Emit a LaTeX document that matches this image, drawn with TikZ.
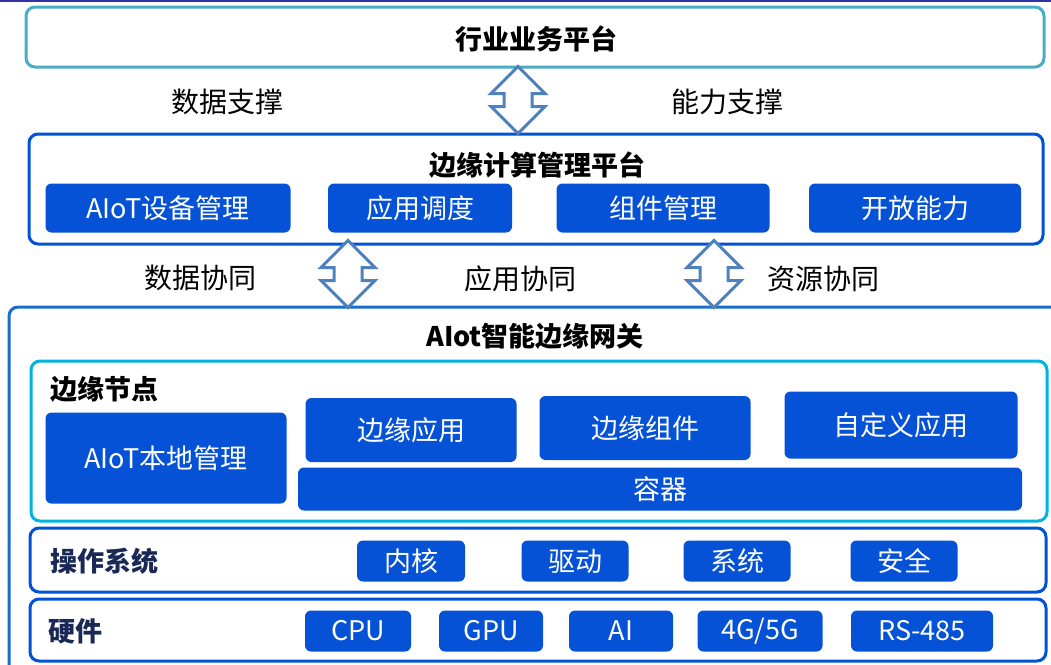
\documentclass[tikz,border=0pt]{standalone}
\usepackage{fontspec}
\setmainfont{Noto Sans CJK SC}
\usetikzlibrary{shapes.arrows,positioning}

\definecolor{btnblue}{RGB}{5,82,214}
\definecolor{ecmblue}{RGB}{0,82,214}
\definecolor{gwblue}{RGB}{25,110,200}
\definecolor{bizteal}{RGB}{75,172,198}
\definecolor{nodecyan}{RGB}{0,180,222}
\definecolor{arrowblue}{RGB}{79,129,189}
\definecolor{navy}{RGB}{25,40,85}
\definecolor{topline}{RGB}{50,50,160}

\begin{document}
\begin{tikzpicture}[x=1pt,y=-1pt,
    layer/.style = {draw, line width=3, rounded corners=9, fill=white, inner sep=0, outer sep=0},
    btn/.style = {fill=btnblue, text=white, rounded corners=6, inner sep=0, outer sep=0,
                  font=\fontsize{27}{30}\selectfont},
    sz/.style 2 args = {minimum width=#1, minimum height=#2},
    title/.style = {font=\fontsize{27}{30}\selectfont\bfseries},
    lbl/.style = {font=\fontsize{28}{30}\selectfont},
    dbl/.style = {double arrow, draw=arrowblue, line width=3, fill=white, rotate=90,
                  inner xsep=0, inner ysep=12.5, double arrow head extend=13,
                  double arrow tip angle=90, minimum height=67}]

    \useasboundingbox (0,0) rectangle (1051,664);
    \clip (0,0) rectangle (1051,664);
    \draw[line width=2, topline] (0,1) -- (1051,1);

    % Layers
    \node[layer, draw=bizteal, sz={1018}{60}] (biz) at (535,37) {};
    \node[layer, draw=ecmblue, sz={1014}{110}] (ecm) at (536,189) {};
    \node[layer, draw=gwblue, sz={1060}{370}] (gw) at (539,492) {};
    \node[layer, draw=nodecyan, sz={1016}{160}] (edge) at (539,441) {};
    \node[layer, draw=ecmblue, sz={1016}{64}] (os) at (538,560) {};
    \node[layer, draw=ecmblue, sz={1016}{62}] (hw) at (538,630) {};

    % Titles
    \node[title] (bizt) at (536,39) {行业业务平台};
    \node[title] (ecmt) at (537,165) {边缘计算管理平台};
    \node[title] (gwt) at (535,336) {AIot智能边缘网关};
    \node[title, anchor=west] (edget) at (47,389) {边缘节点};
    \node[title, anchor=west, text=navy] (ost) at (47,561) {操作系统};
    \node[title, anchor=west, text=navy] (hwt) at (45,631) {硬件};

    % Edge computing platform
    \node[btn, sz={245}{49}] (dev) at (168,208) {AIoT设备管理};
    \node[btn, sz={184}{49}] (sched) at (420,208) {应用调度};
    \node[btn, sz={213}{49}] (comp) at (663,208) {组件管理};
    \node[btn, sz={212}{49}] (open) at (915,208) {开放能力};

    % Edge node
    \node[btn, sz={241}{91}] (local) at (166,458) {AIoT本地管理};
    \node[btn, sz={211}{64}] (eapp) at (411,430) {边缘应用};
    \node[btn, sz={211}{64}] (ecomp) at (645,428) {边缘组件};
    \node[btn, sz={233}{67}] (custom) at (901,425) {自定义应用};
    \node[btn, sz={724}{43}] (box) at (660,489) {容器};

    % Operating system
    \node[btn, sz={108}{41}] (kernel) at (411,561) {内核};
    \node[btn, sz={107}{41}] (driver) at (575,561) {驱动};
    \node[btn, sz={107}{41}] (sys) at (737,561) {系统};
    \node[btn, sz={107}{41}] (sec) at (904,561) {安全};

    % Hardware
    \node[btn, sz={106}{41}] (cpu) at (358,631) {CPU};
    \node[btn, sz={104}{41}] (gpu) at (491,631) {GPU};
    \node[btn, sz={104}{41}] (ai) at (621,631) {AI};
    \node[btn, sz={125}{41}] (net) at (760,631) {4G/5G};
    \node[btn, sz={142}{41}] (rs) at (922,631) {RS-485};

    % Arrows
    \node[dbl] (a1) at (518,100) {};
    \node[dbl] (a2) at (348,274) {};
    \node[dbl] (a3) at (714,274) {};

    % Labels
    \node[lbl] (l1) at (227,102) {数据支撑};
    \node[lbl] (l2) at (727,102) {能力支撑};
    \node[lbl] (l3) at (200,278) {数据协同};
    \node[lbl] (l4) at (520,279) {应用协同};
    \node[lbl] (l5) at (823,279) {资源协同};

\end{tikzpicture}
\end{document}
